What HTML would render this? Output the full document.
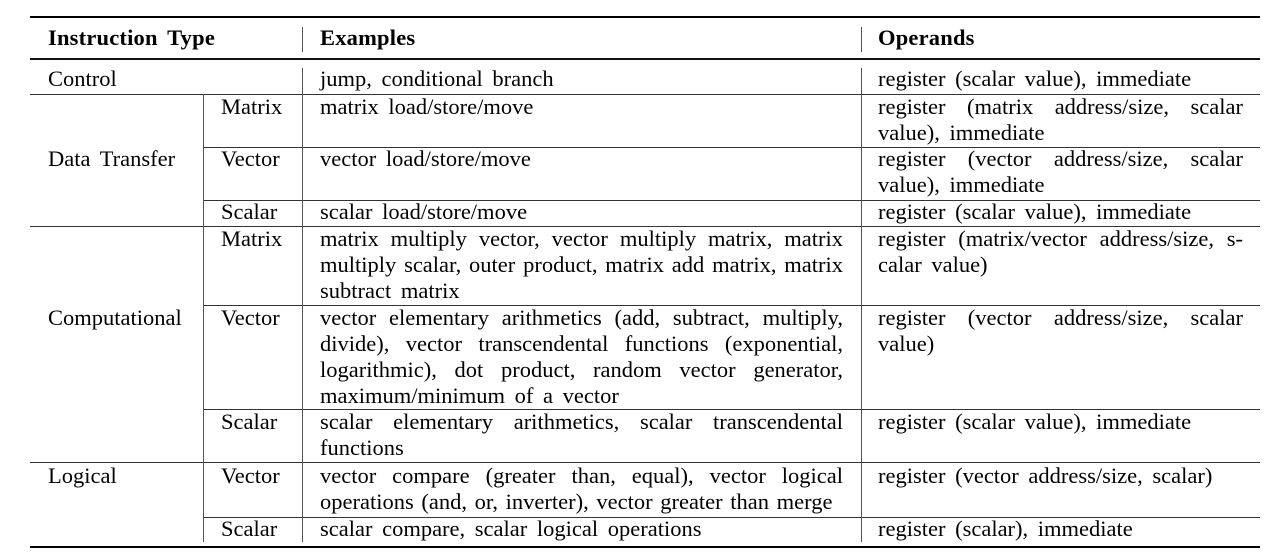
<!DOCTYPE html>
<html><head><meta charset="utf-8"><style>
body{margin:0;width:1272px;height:556px;background:#fff;position:relative;overflow:hidden;font-family:"Liberation Serif",serif;font-size:22.5px;color:#000;word-spacing:4px}
.t{position:absolute;line-height:26px;white-space:nowrap}
.j{text-align:justify;text-align-last:justify;word-spacing:0}
.h{position:absolute;height:1px;background:#333}
.v{position:absolute;width:1px;background:#555}
.b{font-weight:bold;word-spacing:4px;letter-spacing:0.2px}
</style></head><body>
<div class="h" style="left:30px;width:1230px;top:16px;height:2px;background:#000"></div>
<div class="h" style="left:30px;width:1230px;top:58px;height:2px;background:#111"></div>
<div class="h" style="left:30px;width:1230px;top:546px;height:2px;background:#000"></div>
<div class="h" style="left:30px;width:1230px;top:94px"></div>
<div class="h" style="left:203px;width:1057px;top:147px"></div>
<div class="h" style="left:203px;width:1057px;top:200px"></div>
<div class="h" style="left:30px;width:1230px;top:226px"></div>
<div class="h" style="left:203px;width:1057px;top:305px"></div>
<div class="h" style="left:203px;width:1057px;top:409px"></div>
<div class="h" style="left:30px;width:1230px;top:462px"></div>
<div class="h" style="left:203px;width:1057px;top:517px"></div>
<div class="v" style="left:302px;top:27px;height:25px"></div>
<div class="v" style="left:861px;top:27px;height:25px"></div>
<div class="v" style="left:203px;top:94px;height:448px"></div>
<div class="v" style="left:302px;top:68px;height:474px"></div>
<div class="v" style="left:861px;top:68px;height:474px"></div>

<div class="t b" style="left:48px;top:25px">Instruction Type</div>
<div class="t b" style="left:320px;top:25px">Examples</div>
<div class="t b" style="left:878px;top:25px">Operands</div>

<div class="t" style="left:48px;top:66px">Control</div>
<div class="t" style="left:48px;top:146px">Data Transfer</div>
<div class="t" style="left:48px;top:305px">Computational</div>
<div class="t" style="left:48px;top:463px">Logical</div>

<div class="t" style="left:221px;top:94px">Matrix</div>
<div class="t" style="left:221px;top:146px">Vector</div>
<div class="t" style="left:221px;top:199px">Scalar</div>
<div class="t" style="left:221px;top:226px">Matrix</div>
<div class="t" style="left:221px;top:305px">Vector</div>
<div class="t" style="left:221px;top:409px">Scalar</div>
<div class="t" style="left:221px;top:463px">Vector</div>
<div class="t" style="left:221px;top:516px">Scalar</div>

<div class="t" style="left:320px;top:66px">jump, conditional branch</div>
<div class="t" style="left:320px;top:94px">matrix load/store/move</div>
<div class="t" style="left:320px;top:146px">vector load/store/move</div>
<div class="t" style="left:320px;top:199px">scalar load/store/move</div>
<div style="position:absolute;left:320px;top:226px;width:523px">
<div class="t j" style="position:static">matrix multiply vector, vector multiply matrix, matrix</div>
<div class="t j" style="position:static">multiply scalar, outer product, matrix add matrix, matrix</div>
<div class="t" style="position:static">subtract matrix</div></div>
<div style="position:absolute;left:320px;top:305px;width:523px">
<div class="t j" style="position:static">vector elementary arithmetics (add, subtract, multiply,</div>
<div class="t j" style="position:static">divide), vector transcendental functions (exponential,</div>
<div class="t j" style="position:static">logarithmic), dot product, random vector generator,</div>
<div class="t" style="position:static">maximum/minimum of a vector</div></div>
<div style="position:absolute;left:320px;top:409px;width:523px">
<div class="t j" style="position:static">scalar elementary arithmetics, scalar transcendental</div>
<div class="t" style="position:static">functions</div></div>
<div style="position:absolute;left:320px;top:463px;width:523px">
<div class="t j" style="position:static">vector compare (greater than, equal), vector logical</div>
<div class="t" style="position:static;word-spacing:2px">operations (and, or, inverter), vector greater than merge</div></div>
<div class="t" style="left:320px;top:516px">scalar compare, scalar logical operations</div>

<div class="t" style="left:878px;top:66px">register (scalar value), immediate</div>
<div style="position:absolute;left:878px;top:94px;width:365px">
<div class="t j" style="position:static">register (matrix address/size, scalar</div>
<div class="t" style="position:static">value), immediate</div></div>
<div style="position:absolute;left:878px;top:146px;width:365px">
<div class="t j" style="position:static">register (vector address/size, scalar</div>
<div class="t" style="position:static">value), immediate</div></div>
<div class="t" style="left:878px;top:199px">register (scalar value), immediate</div>
<div style="position:absolute;left:878px;top:226px;width:365px">
<div class="t j" style="position:static">register (matrix/vector address/size, s-</div>
<div class="t" style="position:static">calar value)</div></div>
<div style="position:absolute;left:878px;top:305px;width:365px">
<div class="t j" style="position:static">register (vector address/size, scalar</div>
<div class="t" style="position:static">value)</div></div>
<div class="t" style="left:878px;top:409px">register (scalar value), immediate</div>
<div class="t" style="left:878px;top:463px">register (vector address/size, scalar)</div>
<div class="t" style="left:878px;top:516px">register (scalar), immediate</div>
</body></html>
